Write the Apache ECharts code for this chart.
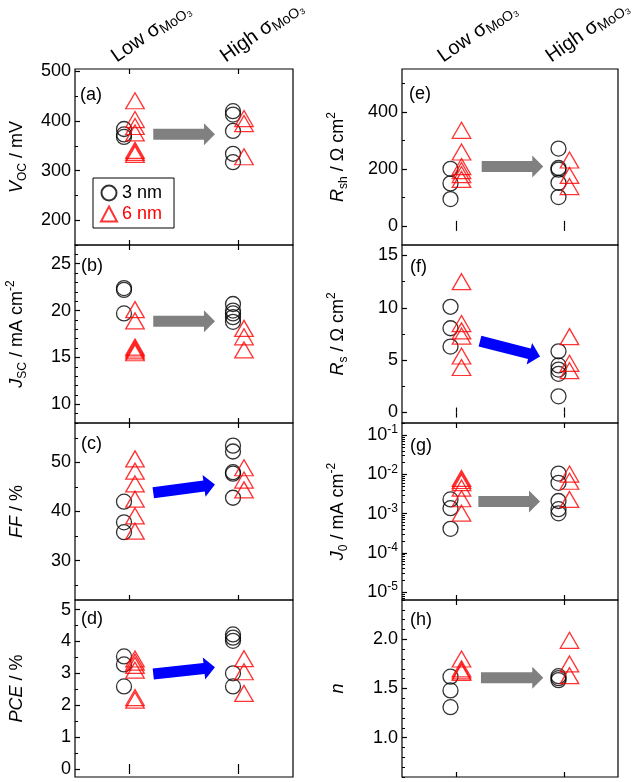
<!DOCTYPE html>
<html><head><meta charset="utf-8">
<script src="https://cdn.jsdelivr.net/npm/echarts@6/dist/echarts.min.js"></script>
<style>html,body{margin:0;padding:0;background:#fff}#c{width:640px;height:782px}</style>
</head><body><div id="c"></div>
<script>
// ---- group labels ----
const groupPositions = [1, 2];
const groupNames = ['Low σ', 'High σ'];
const groupSub = 'MoO₃';
const legendNames = ['3 nm', '6 nm'];

// ---- (a) Voc / mV ----
const vocLow3 = [384, 373, 368];
const vocLow6 = [441, 403, 389, 376, 341, 337, 333];
const vocHigh3 = [420, 413, 380, 334, 317];
const vocHigh6 = [405, 395, 328];
const vocTicks = [200, 300, 400, 500];
const vocArrow = [1.218, 373.6, 1.784, 373.6];
// ---- (b) Jsc / mA cm-2 ----
const jscLow3 = [22.4, 22.2, 19.7];
const jscLow6 = [20.1, 18.9, 16.1, 15.9, 15.7, 15.5];
const jscHigh3 = [20.7, 20.0, 19.7, 19.3, 18.8];
const jscHigh6 = [18.1, 17.2, 15.8];
const jscTicks = [10, 15, 20, 25];
const jscArrow = [1.218, 18.85, 1.784, 18.85];
// ---- (c) FF / % ----
const ffLow3 = [42.0, 37.8, 35.8];
const ffLow6 = [50.7, 48.2, 45.6, 42.5, 39.1, 36.0];
const ffHigh3 = [53.4, 52.2, 48.0, 47.7, 42.8];
const ffHigh6 = [48.9, 46.4, 44.4];
const ffTicks = [30, 40, 50];
const ffArrow = [1.218, 43.8, 1.784, 45.5];
// ---- (d) PCE / % ----
const pceLow3 = [3.53, 3.28, 2.59];
const pceLow6 = [3.45, 3.35, 3.25, 3.1, 2.24, 2.16];
const pceHigh3 = [4.22, 4.12, 4.02, 3.0, 2.59];
const pceHigh6 = [3.46, 3.05, 2.37];
const pceTicks = [0, 1, 2, 3, 4, 5];
const pceArrow = [1.218, 2.98, 1.784, 3.19];
// ---- (e) Rsh / Ohm cm2 ----
const rshLow3 = [200, 149, 94];
const rshLow6 = [335, 259, 208, 194, 180, 163];
const rshHigh3 = [271, 203, 197, 151, 101];
const rshHigh6 = [231, 177, 138];
const rshTicks = [0, 200, 400];
const rshArrow = [1.238, 208, 1.808, 208];
// ---- (f) Rs / Ohm cm2 ----
const rsLow3 = [10.1, 8.05, 6.3];
const rsLow6 = [12.5, 8.5, 7.8, 7.3, 5.4, 4.3];
const rsHigh3 = [5.85, 4.5, 4.1, 3.7, 1.55];
const rsHigh6 = [7.25, 4.7, 4.0];
const rsTicks = [0, 5, 10, 15];
const rsArrow = [1.222, 6.82, 1.778, 5.35];
// ---- (g) J0 / mA cm-2 (log) ----
const j0Low3 = [0.0023, 0.00138, 0.00041];
const j0Low6 = [0.0079, 0.0070, 0.0062, 0.0045, 0.0024, 0.00103];
const j0High3 = [0.0105, 0.0061, 0.0021, 0.0013, 0.00102];
const j0High6 = [0.0102, 0.0067, 0.0023];
const j0TickExponents = [-5, -4, -3, -2, -1];
const j0Arrow = [1.207, 0.00204, 1.778, 0.00204];
// ---- (h) n ----
const nLow3 = [1.62, 1.48, 1.31];
const nLow6 = [1.80, 1.70, 1.68, 1.665];
const nHigh3 = [1.625, 1.605, 1.585];
const nHigh6 = [1.99, 1.75, 1.63];
const nTicks = [1.0, 1.5, 2.0];
const nArrow = [1.231, 1.61, 1.808, 1.61];

const FONT = '"Liberation Sans", Arial, sans-serif';
const GRAY = '#808080', BLUE = '#0000ff', RED = '#ff0000';

const panels = [
  {tag:'(a)', col:0, row:0, l3:vocLow3, l6:vocLow6, h3:vocHigh3, h6:vocHigh6, ticks:vocTicks, minor:50, min:150, max:505, arrow:vocArrow, ac:GRAY, name:'{i|V}{s|OC}{t| / mV}', top:true},
  {tag:'(b)', col:0, row:1, l3:jscLow3, l6:jscLow6, h3:jscHigh3, h6:jscHigh6, ticks:jscTicks, minor:1, min:8, max:27, arrow:jscArrow, ac:GRAY, name:'{i|J}{s|SC}{t| / mA cm}{p|-2}'},
  {tag:'(c)', col:0, row:2, l3:ffLow3, l6:ffLow6, h3:ffHigh3, h6:ffHigh6, ticks:ffTicks, minor:5, min:22, max:58, arrow:ffArrow, ac:BLUE, name:'{i|FF}{t| / %}'},
  {tag:'(d)', col:0, row:3, l3:pceLow3, l6:pceLow6, h3:pceHigh3, h6:pceHigh6, ticks:pceTicks, minor:0.5, min:-0.25, max:5.3, arrow:pceArrow, ac:BLUE, name:'{i|PCE}{t| / %}'},
  {tag:'(e)', col:1, row:0, l3:rshLow3, l6:rshLow6, h3:rshHigh3, h6:rshHigh6, ticks:rshTicks, minor:100, min:-67, max:550, arrow:rshArrow, ac:GRAY, name:'{i|R}{s|sh}{t| / Ω cm}{p|2}', top:true},
  {tag:'(f)', col:1, row:1, l3:rsLow3, l6:rsLow6, h3:rsHigh3, h6:rsHigh6, ticks:rsTicks, minor:2.5, min:-1, max:16, arrow:rsArrow, ac:BLUE, name:'{i|R}{s|s}{t| / Ω cm}{p|2}'},
  {tag:'(g)', col:1, row:2, l3:j0Low3, l6:j0Low6, h3:j0High3, h6:j0High6, ticks:j0TickExponents, log:true, min:-5.2, max:-0.69, arrow:j0Arrow, ac:GRAY, name:'{i|J}{s|0}{t| / mA cm}{p|-2}'},
  {tag:'(h)', col:1, row:3, l3:nLow3, l6:nLow6, h3:nHigh3, h6:nHigh6, ticks:nTicks, minor:0.1, min:0.6, max:2.4, arrow:nArrow, ac:GRAY, name:'{i|n}', dec:1}
];

const colLeft = [75, 402], colWidth = [218, 216];
const rowTop = [69, 245, 423, 600], rowBottom = [245, 423, 600, 777];
const nameGaps = [46, 52];
const labelPos = [[80, 95], [81, 266], [81, 444], [81, 619], [409, 94], [410, 267], [410, 446], [410, 620]];

const richName = {
  t: {fontSize: 18, fontFamily: FONT, lineHeight: 24, color: '#000'},
  i: {fontSize: 18, fontFamily: FONT, fontStyle: 'italic', lineHeight: 24, color: '#000'},
  s: {fontSize: 12, fontFamily: FONT, lineHeight: 12, verticalAlign: 'bottom', color: '#000'},
  p: {fontSize: 12, fontFamily: FONT, lineHeight: 12, verticalAlign: 'top', color: '#000'}
};

const grids = [], xAxes = [], yAxes = [], series = [], graphics = [];
const topRefs = [];

function minorValues(p) {
  const out = [];
  if (p.log) {
    for (let e = -6; e <= 0; e++) for (let k = 1; k <= 9; k++) {
      const v = e + Math.log10(k);
      if (v >= p.min && v <= p.max) out.push(v);
    }
  } else {
    for (let v = Math.ceil(p.min / p.minor) * p.minor; v <= p.max + 1e-9; v += p.minor) out.push(Math.round(v * 1000) / 1000);
  }
  return out;
}

panels.forEach((p, i) => {
  const tf = p.log ? (v => Math.log10(v)) : (v => v);
  grids.push({left: colLeft[p.col], width: colWidth[p.col], top: rowTop[p.row], height: rowBottom[p.row] - rowTop[p.row],
    show: true, borderColor: '#000', borderWidth: 1.2, backgroundColor: 'transparent', containLabel: false, outerBoundsMode: 'none'});
  ['bottom', 'top'].forEach(pos => xAxes.push({type: 'value', gridIndex: i, min: 0.5, max: 2.5, position: pos,
    splitLine: {show: false}, axisLine: {show: false}, axisLabel: {show: false},
    axisTick: {show: true, inside: true, length: 5, customValues: groupPositions.slice(), lineStyle: {color: '#000', width: 1.2}}}));
  yAxes.push({type: 'value', gridIndex: i, min: p.min, max: p.max, position: 'left',
    name: p.name, nameLocation: 'middle', nameRotate: 90, nameGap: nameGaps[p.col], nameTextStyle: {rich: richName},
    splitLine: {show: false}, axisLine: {show: false},
    axisTick: {show: true, inside: true, length: 5, customValues: p.ticks, lineStyle: {color: '#000', width: 1.2}},
    axisLabel: {show: true, customValues: p.ticks, margin: 4, color: '#000', fontSize: 18, fontFamily: FONT,
      formatter: p.log ? (v => '{b|10}{p|' + v + '}') : (v => p.dec ? v.toFixed(p.dec) : String(v)),
      rich: p.log ? {b: {fontSize: 18, fontFamily: FONT, color: '#000', lineHeight: 22}, p: {fontSize: 12, fontFamily: FONT, color: '#000', lineHeight: 12, verticalAlign: 'top'}} : undefined}
  });
  yAxes.push({type: 'value', gridIndex: i, min: p.min, max: p.max, position: 'left',
    splitLine: {show: false}, axisLine: {show: false}, axisLabel: {show: false},
    axisTick: {show: true, inside: true, length: 3, customValues: minorValues(p), lineStyle: {color: '#000', width: 1}}});

  const d3 = p.l3.map(v => [groupPositions[0], tf(v)]).concat(p.h3.map(v => [groupPositions[1], tf(v)]));
  const d6 = p.l6.map(v => [groupPositions[0], tf(v)]).concat(p.h6.map(v => [groupPositions[1], tf(v)]));
  if (p.top) topRefs.push({seriesIndex: series.length, max: p.max});
  series.push({type: 'scatter', name: legendNames[0], xAxisIndex: 2 * i, yAxisIndex: 2 * i, data: d3,
    symbol: 'circle', symbolSize: 15, symbolOffset: [-5.5, 0], z: 3,
    itemStyle: {color: 'rgba(0,0,0,0)', borderColor: '#000', borderWidth: 1.3}, emphasis: {disabled: true}});
  series.push({type: 'scatter', name: legendNames[1], xAxisIndex: 2 * i, yAxisIndex: 2 * i, data: d6,
    symbol: 'triangle', symbolSize: [18.5, 16], symbolOffset: [5.5, 0], z: 4,
    itemStyle: {color: 'rgba(0,0,0,0)', borderColor: RED, borderWidth: 1.3}, emphasis: {disabled: true}});
  const a = p.arrow;
  const color = p.ac;
  series.push({type: 'custom', xAxisIndex: 2 * i, yAxisIndex: 2 * i, z: 2, silent: true,
    data: [[a[0], tf(a[1]), a[2], tf(a[3])]], encode: {x: [0, 2], y: [1, 3]},
    renderItem: (params, api) => {
      const s = api.coord([api.value(0), api.value(1)]);
      const e = api.coord([api.value(2), api.value(3)]);
      const dx = e[0] - s[0], dy = e[1] - s[1], len = Math.hypot(dx, dy);
      const ux = dx / len, uy = dy / len, nx = -uy, ny = ux;
      const hb = 5.5, hh = 11, hl = 11;
      const b = [e[0] - ux * hl, e[1] - uy * hl];
      const pts = [
        [s[0] + nx * hb, s[1] + ny * hb], [b[0] + nx * hb, b[1] + ny * hb], [b[0] + nx * hh, b[1] + ny * hh],
        e, [b[0] - nx * hh, b[1] - ny * hh], [b[0] - nx * hb, b[1] - ny * hb], [s[0] - nx * hb, s[1] - ny * hb]
      ];
      return {type: 'polygon', shape: {points: pts}, style: {fill: color}};
    }});
  graphics.push({type: 'text', x: labelPos[i][0], y: labelPos[i][1], style: {text: p.tag, font: '18px ' + FONT, fill: '#000', verticalAlign: 'middle'}});
});

const chart = echarts.init(document.getElementById('c'), null, {renderer: 'canvas'});
chart.setOption({
  animation: false,
  backgroundColor: '#fff',
  grid: grids, xAxis: xAxes, yAxis: yAxes, series: series, graphic: graphics,
  legend: {
    data: [{name: legendNames[0], textStyle: {color: '#000'}}, {name: legendNames[1], textStyle: {color: RED}}],
    orient: 'vertical', left: 93, top: 178, padding: [6, 12, 5, 7], itemGap: 3, itemWidth: 16, itemHeight: 15,
    borderColor: '#000', borderWidth: 1, selectedMode: false, backgroundColor: '#fff',
    textStyle: {fontSize: 18, fontFamily: FONT, padding: [0, 0, 0, 0]}
  }
});

// group labels above the top panels, anchored at the group tick positions via the chart's own scales
const groupRich = {
  a: {fontSize: 20, fontFamily: FONT, fill: '#000', lineHeight: 24},
  s: {fontSize: 14, fontFamily: FONT, fill: '#000', lineHeight: 14, verticalAlign: 'bottom'}
};
topRefs.forEach(ref => {
  groupPositions.forEach((g, k) => {
    const pt = chart.convertToPixel({seriesIndex: ref.seriesIndex}, [g, ref.max]);
    graphics.push({type: 'text', x: pt[0] - 9, y: pt[1] - 1, rotation: 35 * Math.PI / 180,
      style: {text: '{a|' + groupNames[k] + '}{s|' + groupSub + '}', rich: groupRich, fill: '#000',
        align: 'left', verticalAlign: 'bottom', font: '20px ' + FONT}});
  });
});
chart.setOption({graphic: graphics});
</script></body></html>
